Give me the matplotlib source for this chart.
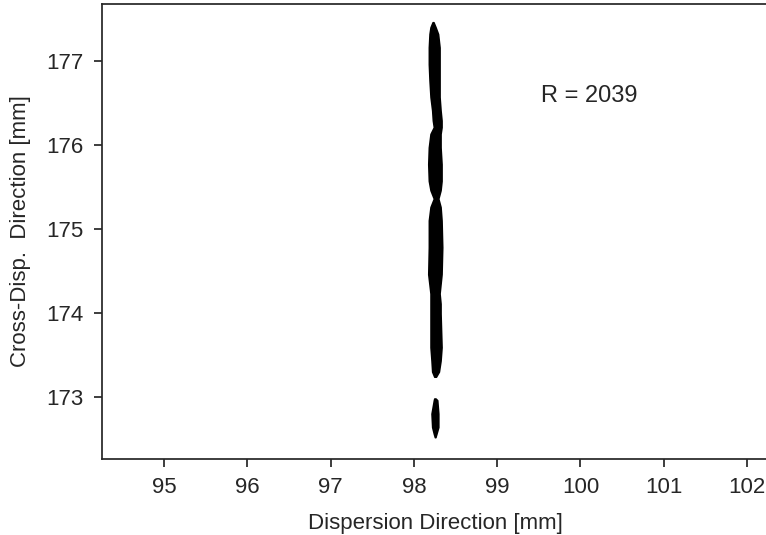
import matplotlib
matplotlib.use("Agg")
import matplotlib.pyplot as plt

plt.rcParams['font.family'] = ['Liberation Sans', 'DejaVu Sans']

# Edge profile of the imaged spot streak
seg1_y = [177.46, 177.40, 177.32, 177.16, 176.96, 176.77, 176.57, 176.41, 176.29, 176.21,
          176.13, 175.97, 175.77, 175.57, 175.46, 175.36, 175.26, 175.10, 174.78, 174.46,
          174.23, 174.11, 173.99, 173.59, 173.43, 173.30, 173.24]
seg1_left = [98.225, 98.200, 98.188, 98.180, 98.180, 98.188, 98.200, 98.220, 98.228, 98.240,
             98.200, 98.180, 98.173, 98.180, 98.200, 98.240, 98.200, 98.180, 98.180, 98.173,
             98.200, 98.200, 98.200, 98.200, 98.212, 98.220, 98.245]
seg1_right = [98.235, 98.260, 98.290, 98.308, 98.308, 98.308, 98.308, 98.320, 98.332, 98.332,
              98.320, 98.320, 98.332, 98.332, 98.320, 98.293, 98.320, 98.332, 98.340, 98.332,
              98.308, 98.320, 98.320, 98.332, 98.320, 98.300, 98.265]

seg2_y = [172.98, 172.96, 172.80, 172.64, 172.56, 172.52]
seg2_left = [98.245, 98.240, 98.212, 98.220, 98.240, 98.252]
seg2_right = [98.260, 98.280, 98.293, 98.293, 98.270, 98.258]

x_ticks = [95, 96, 97, 98, 99, 100, 101, 102]
y_ticks = [173, 174, 175, 176, 177]
annotation = "R = 2039"

fig = plt.figure(figsize=(7.66, 5.35), dpi=100)
ax = fig.add_axes([102/766, 76/535, 666/766, 455/535])

for ys, xl, xr in [(seg1_y, seg1_left, seg1_right), (seg2_y, seg2_left, seg2_right)]:
    ax.fill_betweenx(ys, xl, xr, color='black', linewidth=1.2, edgecolor='black')

ax.set_xlim(94.256, 102.251)
ax.set_ylim(172.26, 177.677)
ax.set_xticks(x_ticks)
ax.set_yticks(y_ticks)
ax.tick_params(direction='out', length=6, width=1.25, color='.15', labelsize=16,
               labelcolor='.15', pad=7)
for s in ax.spines.values():
    s.set_color('.15')
    s.set_linewidth(1.25)

ax.set_xlabel("Dispersion Direction [mm]", fontsize=16, color='.15', labelpad=11)
ax.set_ylabel("Cross-Disp.  Direction [mm]", fontsize=16, color='.15', labelpad=11)
ax.text(99.52, 176.58, annotation, fontsize=17, color='.15', ha='left', va='center')

fig.savefig("out.png", dpi=100)
